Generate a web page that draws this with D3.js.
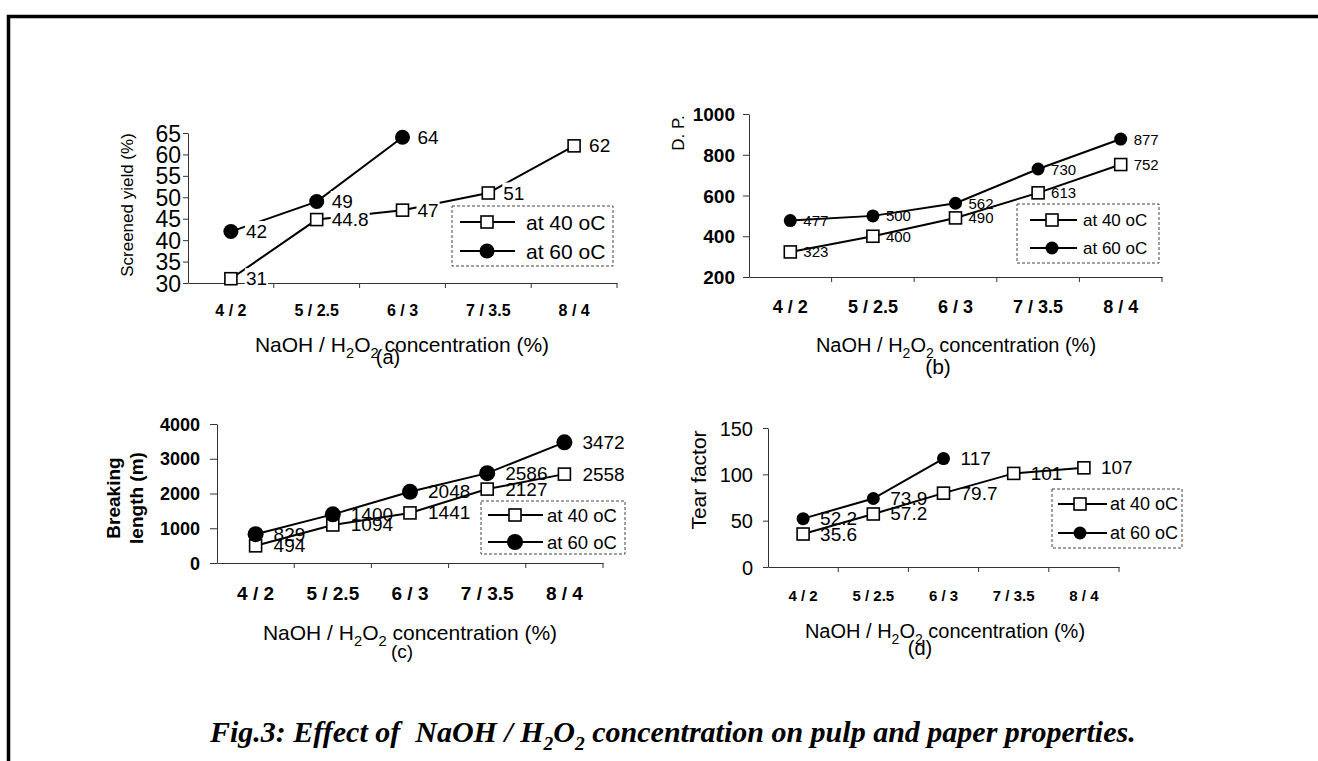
<!DOCTYPE html>
<html><head><meta charset="utf-8">
<script src="https://cdn.jsdelivr.net/npm/d3@7"></script>
<style>
body{margin:0;background:#fff}
svg{display:block}
text{font-family:Arial,"Liberation Sans",sans-serif;fill:#000}
</style>
</head><body>
<svg id="chart" width="1318" height="761"></svg>
<script>
// ---- data ----
const categories = ["4 / 2", "5 / 2.5", "6 / 3", "7 / 3.5", "8 / 4"];
const seriesNames = ["at 40 oC", "at 60 oC"];
const yieldAt40 = [31, 44.8, 47, 51, 62];
const yieldAt60 = [42, 49, 64];
const yieldTicks = [30, 35, 40, 45, 50, 55, 60, 65];
const dpAt40 = [323, 400, 490, 613, 752];
const dpAt60 = [477, 500, 562, 730, 877];
const dpTicks = [200, 400, 600, 800, 1000];
const breakingAt40 = [494, 1094, 1441, 2127, 2558];
const breakingAt60 = [829, 1400, 2048, 2586, 3472];
const breakingTicks = [0, 1000, 2000, 3000, 4000];
const tearAt40 = [35.6, 57.2, 79.7, 101, 107];
const tearAt60 = [52.2, 73.9, 117];
const tearTicks = [0, 50, 100, 150];
const yTitles = [["Screened yield (%)"], ["D. P."], ["Breaking", "length (m)"], ["Tear factor"]];
const panelLetters = ["(a)", "(b)", "(c)", "(d)"];

// ---- layout (positions/styles only) ----
const layouts = [
  {x0:188,x1:617,yTop:133,yBot:283, yt:{size:23,weight:"normal",tick:5,end:181},
   xt:{cy:310,size:16}, ytitle:{xs:[127],y:205,size:17,weight:"normal"},
   xtitle:{cx:402,base:352,size:21}, letter:{cx:388,base:364,size:20},
   legend:{box:[452,206,613,266],rows:[222,251],line:[460,515],mx:487,tx:526,size:21},
   label:{size:19,dx:15,bg:true}, r:7.5, sq:12, lw:2},
  {x0:749,x1:1162,yTop:114,yBot:277, yt:{size:19,weight:"bold",tick:6,end:735},
   xt:{cy:307,size:18}, ytitle:{xs:[678],y:133,size:17,weight:"normal"},
   xtitle:{cx:956,base:352,size:20}, letter:{cx:938,base:374,size:21},
   legend:{box:[1017,204,1159,263],rows:[220,248],line:[1030,1077],mx:1052,tx:1083,size:17},
   label:{size:15,dx:13,bg:false}, r:6.5, sq:12, lw:2},
  {x0:217,x1:603,yTop:424,yBot:563, yt:{size:18,weight:"bold",tick:7,end:200},
   xt:{cy:593,size:19}, ytitle:{xs:[113,136],y:498,size:19,weight:"bold"},
   xtitle:{cx:410,base:640,size:21}, letter:{cx:402,base:658,size:19},
   legend:{box:[481,501,625,554],rows:[515,542],line:[488,543],mx:515,tx:547,size:18.5},
   label:{size:19,dx:18,bg:false}, r:8, sq:12, lw:2},
  {x0:768,x1:1119,yTop:428,yBot:567, yt:{size:20,weight:"normal",tick:5,end:753},
   xt:{cy:595,size:15}, ytitle:{xs:[698],y:480,size:21,weight:"normal"},
   xtitle:{cx:945,base:638,size:20}, letter:{cx:920,base:655,size:20},
   legend:{box:[1052,489,1182,548],rows:[504,533],line:[1058,1107],mx:1080,tx:1110,size:18},
   label:{size:19,dx:17,bg:false}, r:6.5, sq:12, lw:2}
];

const panelData = [
  {s40:yieldAt40, s60:yieldAt60, ticks:yieldTicks},
  {s40:dpAt40, s60:dpAt60, ticks:dpTicks},
  {s40:breakingAt40, s60:breakingAt60, ticks:breakingTicks},
  {s40:tearAt40, s60:tearAt60, ticks:tearTicks}
];

const svg = d3.select("#chart");
svg.append("rect").attr("width",1318).attr("height",761).attr("fill","#fff");

// outer frame (only top and left visible)
svg.append("path").attr("d","M8.5,761 L8.5,16.5 L1318,16.5")
  .attr("fill","none").attr("stroke","#000").attr("stroke-width",3.5);

function drawSquare(g, cx, cy, s){
  g.append("rect").attr("x",cx-s/2).attr("y",cy-s/2).attr("width",s).attr("height",s)
   .attr("fill","#fff").attr("stroke","#000").attr("stroke-width",1.6);
}
function drawCircle(g, cx, cy, r){
  g.append("circle").attr("cx",cx).attr("cy",cy).attr("r",r).attr("fill","#000");
}

panelData.forEach((pd, pi) => {
  const L = layouts[pi];
  const g = svg.append("g");
  const x = d3.scaleBand().domain(categories).range([L.x0, L.x1]).paddingInner(0).paddingOuter(0);
  const cx = c => x(c) + x.bandwidth()/2;
  const y = d3.scaleLinear().domain(d3.extent(pd.ticks)).range([L.yBot, L.yTop]);

  // y axis
  const ya = g.append("g").attr("transform",`translate(${L.x0},0)`)
    .call(d3.axisLeft(y).tickValues(pd.ticks).tickFormat(d3.format("d"))
      .tickSize(L.yt.tick).tickSizeOuter(0).tickPadding(L.x0-L.yt.end-L.yt.tick));
  ya.select(".domain").attr("stroke","#333");
  ya.selectAll(".tick line").attr("stroke","#333");
  ya.selectAll(".tick text").attr("dy",null).attr("dominant-baseline","central")
    .style("font-size",L.yt.size+"px").style("font-weight",L.yt.weight)
    .style("font-family","Arial, 'Liberation Sans', sans-serif").attr("fill","#000");

  // x axis
  const xa = g.append("g").attr("transform",`translate(0,${L.yBot})`)
    .call(d3.axisBottom(x).tickSize(0).tickSizeOuter(0));
  xa.select(".domain").attr("stroke","#333");
  xa.selectAll(".tick text").attr("dy",null).attr("y",L.xt.cy-L.yBot).attr("dominant-baseline","central")
    .style("font-size",L.xt.size+"px").style("font-weight","bold")
    .style("font-family","Arial, 'Liberation Sans', sans-serif").attr("fill","#000");
  g.selectAll(".bt").data(categories).enter().append("line")
    .attr("x1",c=>x(c)+x.bandwidth()).attr("x2",c=>x(c)+x.bandwidth())
    .attr("y1",L.yBot).attr("y2",L.yBot+5).attr("stroke","#333");

  // lines
  const line = d3.line().x((d,i)=>cx(categories[i])).y(d=>y(d));
  [pd.s40, pd.s60].forEach(s => {
    g.append("path").attr("d",line(s)).attr("fill","none").attr("stroke","#000").attr("stroke-width",L.lw);
  });
  // markers
  pd.s40.forEach((v,i)=>drawSquare(g, cx(categories[i]), y(v), L.sq));
  pd.s60.forEach((v,i)=>drawCircle(g, cx(categories[i]), y(v), L.r));

  // data labels
  const lg = g.append("g");
  [pd.s40, pd.s60].forEach(s => {
    s.forEach((v,i)=>{
      const t = lg.append("text").attr("x",cx(categories[i])+L.label.dx).attr("y",y(v))
        .attr("dominant-baseline","central").style("font-size",L.label.size+"px").text(v);
      if (L.label.bg){
        const b = t.node().getBBox();
        lg.insert("rect","text").attr("x",b.x-1).attr("y",b.y).attr("width",b.width+2).attr("height",b.height).attr("fill","#fff");
        t.raise();
      }
    });
  });

  // y title
  yTitles[pi].forEach((tt, k) => {
    g.append("text").attr("transform",`translate(${L.ytitle.xs[k]},${L.ytitle.y}) rotate(-90)`)
      .attr("text-anchor","middle").attr("dominant-baseline","central")
      .style("font-size",L.ytitle.size+"px").style("font-weight",L.ytitle.weight).text(tt);
  });

  // x title with subscripts
  const xt = g.append("text").attr("x",L.xtitle.cx).attr("y",L.xtitle.base).attr("text-anchor","middle")
    .style("font-size",L.xtitle.size+"px");
  const sd = Math.round(L.xtitle.size*0.3);
  xt.append("tspan").text("NaOH / H");
  xt.append("tspan").attr("dy",sd).style("font-size","70%").text("2");
  xt.append("tspan").attr("dy",-sd).text("O");
  xt.append("tspan").attr("dy",sd).style("font-size","70%").text("2");
  xt.append("tspan").attr("dy",-sd).text(" concentration (%)");

  g.append("text").attr("x",L.letter.cx).attr("y",L.letter.base).attr("text-anchor","middle")
    .style("font-size",L.letter.size+"px").text(panelLetters[pi]);

  // legend
  const lb = L.legend.box;
  g.append("rect").attr("x",lb[0]).attr("y",lb[1]).attr("width",lb[2]-lb[0]).attr("height",lb[3]-lb[1])
    .attr("fill","#fff").attr("stroke","#444").attr("stroke-width",1).attr("stroke-dasharray","3,2");
  seriesNames.forEach((nm, k) => {
    const ry = L.legend.rows[k];
    g.append("line").attr("x1",L.legend.line[0]).attr("x2",L.legend.line[1]).attr("y1",ry).attr("y2",ry)
      .attr("stroke","#000").attr("stroke-width",L.lw);
    if (k===0) drawSquare(g, L.legend.mx, ry, L.sq); else drawCircle(g, L.legend.mx, ry, L.r);
    g.append("text").attr("x",L.legend.tx).attr("y",ry).attr("dominant-baseline","central")
      .style("font-size",L.legend.size+"px").text(nm);
  });
});

// caption
const cap = svg.append("text").attr("x",210).attr("y",742)
  .style("font-family","'Liberation Serif','Times New Roman',serif").style("font-size","30px")
  .style("font-weight","bold").style("font-style","italic").style("white-space","pre");
cap.append("tspan").text("Fig.3: Effect of  NaOH / H");
cap.append("tspan").attr("dy",8).style("font-size","65%").text("2");
cap.append("tspan").attr("dy",-8).text("O");
cap.append("tspan").attr("dy",8).style("font-size","65%").text("2");
cap.append("tspan").attr("dy",-8).text(" concentration on pulp and paper properties.");
</script>
</body></html>
